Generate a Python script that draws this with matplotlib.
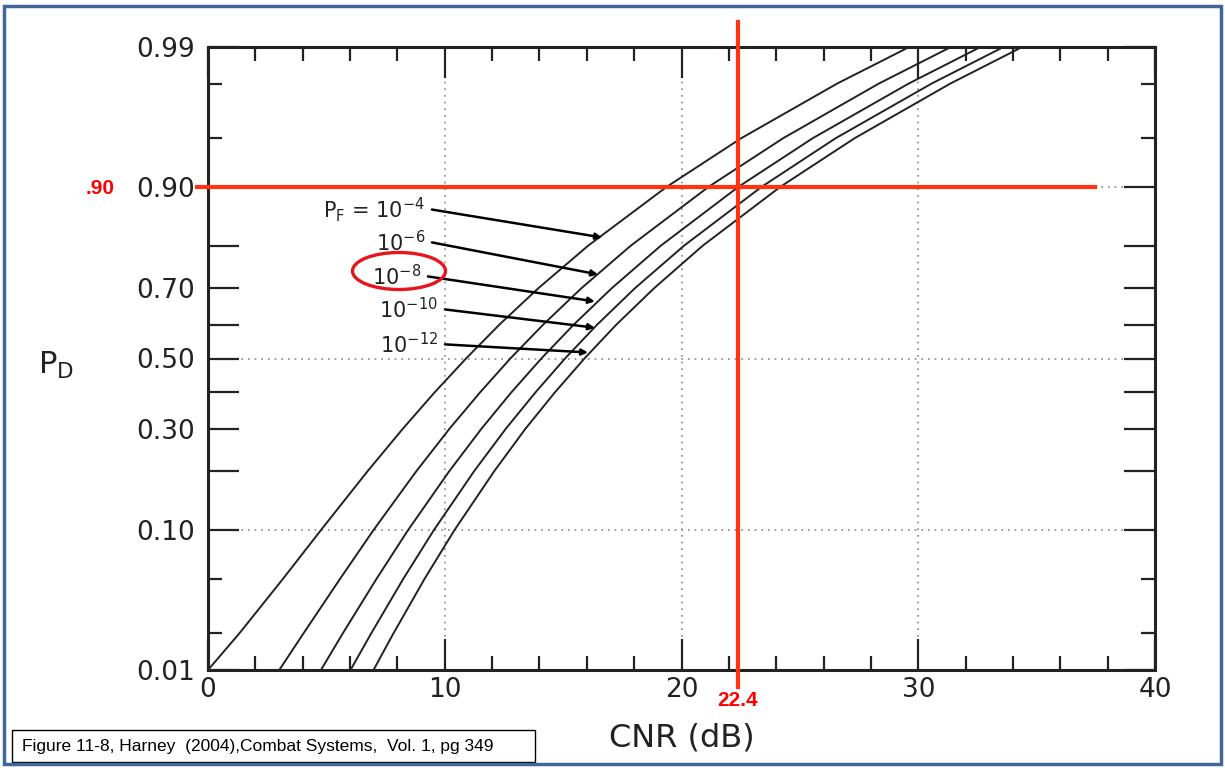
import math
import numpy as np
import matplotlib
matplotlib.use('Agg')
import matplotlib.pyplot as plt
from matplotlib.patches import Ellipse, Rectangle

# detection probability levels and CNR (dB)
pd_levels = [0.01, 0.02, 0.05, 0.10, 0.20, 0.30, 0.40, 0.50, 0.60, 0.70, 0.80, 0.90, 0.95, 0.98, 0.99]
cnr_pf4 = [0.00, 1.32, 3.17, 4.77, 6.74, 8.23, 9.57, 10.90, 12.31, 13.95, 16.05, 19.37, 22.52, 26.58, 29.62]
cnr_pf6 = [3.01, 4.03, 5.58, 6.99, 8.80, 10.20, 11.49, 12.77, 14.16, 15.77, 17.85, 21.14, 24.29, 28.34, 31.38]
cnr_pf8 = [4.77, 5.69, 7.12, 8.45, 10.19, 11.55, 12.81, 14.08, 15.45, 17.05, 19.12, 22.40, 25.54, 29.60, 32.63]
cnr_pf10 = [6.02, 6.89, 8.25, 9.54, 11.24, 12.58, 13.83, 15.08, 16.44, 18.03, 20.10, 23.38, 26.51, 30.57, 33.60]
cnr_pf12 = [6.99, 7.83, 9.15, 10.41, 12.09, 13.41, 14.65, 15.90, 17.25, 18.84, 20.89, 24.17, 27.31, 31.36, 34.39]
curves = [cnr_pf4, cnr_pf6, cnr_pf8, cnr_pf10, cnr_pf12]

pf_labels = ['P$_\\mathregular{F}$ = 10$^{\\mathregular{-4}}$', '10$^{\\mathregular{-6}}$',
             '10$^{\\mathregular{-8}}$', '10$^{\\mathregular{-10}}$', '10$^{\\mathregular{-12}}$']
# arrow tail (near label) and head (near curve), (CNR dB, Pd)
arrow_tail = [(9.46, 0.867), (9.46, 0.807), (9.29, 0.730), (10.01, 0.643), (10.01, 0.542)]
arrow_head = [(16.64, 0.817), (16.47, 0.735), (16.34, 0.665), (16.34, 0.591), (16.05, 0.518)]

y_ticks = [0.01, 0.10, 0.20, 0.30, 0.40, 0.50, 0.60, 0.70, 0.80, 0.90, 0.99]
y_ticklabels = ['0.01', '0.10', '', '0.30', '', '0.50', '', '0.70', '', '0.90', '0.99']
y_minor = [0.02, 0.05, 0.95, 0.98]
x_ticks = [0, 10, 20, 30, 40]
x_minor = [2, 4, 6, 8, 12, 14, 16, 18, 22, 24, 26, 28, 32, 34, 36, 38]
grid_x = [10, 20, 30]
grid_y = [0.10, 0.50, 0.90]

req_pd = 0.90
req_cnr = 22.4

# normal probability scale
_erf = np.vectorize(math.erf)
def norm_cdf(z):
    return 0.5 * (1.0 + _erf(np.asarray(z, float) / math.sqrt(2.0)))

z_grid = np.linspace(-6, 6, 40001)
p_grid = norm_cdf(z_grid)

def probit(p):
    p = np.clip(np.asarray(p, float), p_grid[0], p_grid[-1])
    return np.interp(p, p_grid, z_grid)

fig = plt.figure(figsize=(12.25, 7.68), dpi=100)
ax = fig.add_axes([208/1225, 1-670/768, 947/1225, 623/768])
ax.set_yscale('function', functions=(probit, norm_cdf))
ax.set_xlim(0, 40)
ax.set_ylim(0.01, 0.99)

for gx in grid_x:
    ax.axvline(gx, color='#888888', ls=(0, (1, 3)), lw=1.2, zorder=1)
for gy in grid_y:
    ax.axhline(gy, color='#888888', ls=(0, (1, 3)), lw=1.2, zorder=1)

for c in curves:
    ax.plot(c, pd_levels, color='#222222', lw=1.4, zorder=3)

for lab, tail, head in zip(pf_labels, arrow_tail, arrow_head):
    ax.annotate('', xy=head, xytext=tail,
                arrowprops=dict(arrowstyle='-|>', color='black', lw=1.8,
                                mutation_scale=9, shrinkA=0, shrinkB=0), zorder=4)
    ax.annotate(lab, xy=tail, xytext=(-5, -6), textcoords='offset points',
                ha='right', va='baseline', fontsize=15, color='#222222')

ax.set_yticks(y_ticks)
ax.set_yticklabels(y_ticklabels)
ax.set_yticks(y_minor, minor=True)
ax.set_xticks(x_ticks)
ax.set_xticklabels([str(v) for v in x_ticks])
ax.set_xticks(x_minor, minor=True)
ax.tick_params(axis='both', which='both', direction='in', top=True, right=True,
               color='#222222', labelcolor='#222222', labelsize=19)
ax.tick_params(axis='both', which='major', length=22, width=1.6)
ax.tick_params(axis='both', which='minor', length=10, width=1.6)
ax.tick_params(axis='y', pad=9)
ax.tick_params(axis='x', pad=5)
for s in ax.spines.values():
    s.set_linewidth(2.2)
    s.set_color('#222222')

ax.set_xlabel('CNR (dB)', fontsize=23, color='#222222', labelpad=14)
fig.text(38/1225, 1-365/768, 'P$_\\mathregular{D}$', fontsize=22, color='#222222',
         ha='left', va='center')

# red requirement lines
red = '#ff3310'
ax.plot([-0.46, 37.46], [req_pd, req_pd], color=red, lw=3, clip_on=False, zorder=5)
ax.plot([req_cnr, req_cnr], [0.00705, 0.99405], color=red, lw=3, clip_on=False, zorder=5)
fig.text(100/1225, 1-188/768, '.90', fontsize=15, fontweight='bold', color='red',
         family='Liberation Sans', ha='center', va='center')
fig.text(738/1225, 1-701/768, '22.4', fontsize=15, fontweight='bold', color='red',
         family='Liberation Sans', ha='center', va='center')
fig.patches.append(Ellipse((399/1225, 1-271/768), 93/1225, 37/768, fill=False,
                           edgecolor='#e8141b', lw=2.4, transform=fig.transFigure))

# citation box and outer frame
fig.patches.append(Rectangle((12/1225, 1-762/768), 523/1225, 32/768, fill=False,
                             edgecolor='black', lw=1, transform=fig.transFigure))
fig.text(22/1225, 1-746/768, 'Figure 11-8, Harney  (2004),Combat Systems,  Vol. 1, pg 349',
         fontsize=12.5, family='Liberation Sans', ha='left', va='center', color='black')
fig.patches.append(Rectangle((4/1225, 4/768), 1217/1225, 758/768, fill=False,
                             edgecolor='#41679a', lw=2.5, transform=fig.transFigure))

fig.savefig('out.png', dpi=100)
